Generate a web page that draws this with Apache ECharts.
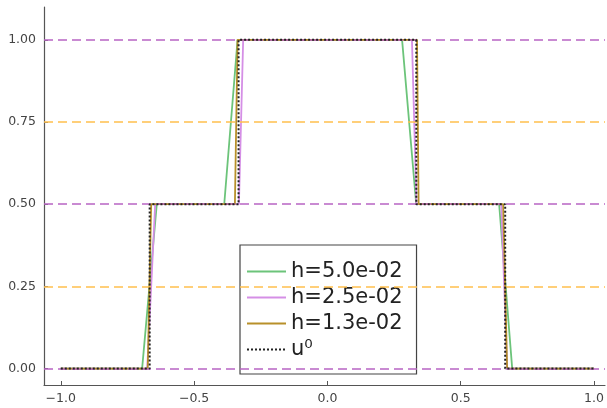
<!DOCTYPE html>
<html>
<head>
<meta charset="utf-8">
<script src="https://cdn.jsdelivr.net/npm/echarts@6/dist/echarts.min.js"></script>
<style>
html,body{margin:0;padding:0;background:#fff;}
#chart{width:607px;height:408px;}
</style>
</head>
<body>
<div id="chart"></div>
<script>
// ---- data ----
const xTicks = [-1.0, -0.5, 0.0, 0.5, 1.0];
const yTicks = [0.0, 0.25, 0.5, 0.75, 1.0];
const purpleLevels = [0.0, 0.5, 1.0];
const orangeLevels = [0.25, 0.75];

const seriesNames = ['h=5.0e-02', 'h=2.5e-02', 'h=1.3e-02', 'u\u2070'];

const h050 = [[-1,0],[-0.695,0],[-0.64,0.5],[-0.387,0.5],[-0.337,1],[0.28,1],[0.333,0.5],[0.644,0.5],[0.693,0],[1,0]];
const h025 = [[-1,0],[-0.676,0],[-0.646,0.5],[-0.332,0.5],[-0.316,1],[0.317,1],[0.334,0.5],[0.652,0.5],[0.674,0],[1,0]];
const h013 = [[-1,0],[-0.674,0],[-0.661,0.5],[-0.347,0.5],[-0.337,1],[0.336,1],[0.342,0.5],[0.659,0.5],[0.674,0],[1,0]];
const u0   = [[-1,0],[-0.6667,0],[-0.6667,0.5],[-0.3333,0.5],[-0.3333,1],[0.3333,1],[0.3333,0.5],[0.6667,0.5],[0.6667,0],[1,0]];

const colors = ['#6cc47a', '#d58fe6', '#b8902a', '#222222'];
const FONT = 'DejaVu Sans';

const chart = echarts.init(document.getElementById('chart'), null, {renderer: 'canvas'});

function lineSeries(name, data, color, type, width, z) {
  return {
    name: name, type: 'line', data: data, symbol: 'none', showSymbol: false,
    animation: false, z: z,
    lineStyle: {color: color, width: width, type: type},
    itemStyle: {color: color}
  };
}

const hlineData = purpleLevels.map(v => ({yAxis: v, lineStyle: {color: '#b864c4', type: [9, 5], width: 1.6}}))
  .concat(orangeLevels.map(v => ({yAxis: v, lineStyle: {color: '#ffc04d', type: [9, 5], width: 1.6}})));

const option = {
  backgroundColor: '#fff',
  animation: false,
  grid: {left: 44, right: 0, top: 7, bottom: 23, containLabel: false},
  xAxis: {
    type: 'value', min: -1.063, max: 1.041,
    axisLine: {show: true, onZero: false, lineStyle: {color: '#555', width: 1.2}},
    axisTick: {show: true, inside: true, length: 4, customValues: xTicks, lineStyle: {color: '#555'}},
    axisLabel: {customValues: xTicks, margin: 7, color: '#444', fontSize: 12.5, fontFamily: FONT,
      formatter: v => v.toFixed(1).replace('-', '\u2212')},
    splitLine: {show: false}
  },
  yAxis: {
    type: 'value', min: -0.05, max: 1.10,
    axisLine: {show: true, onZero: false, lineStyle: {color: '#555', width: 1.2}},
    axisTick: {show: true, inside: true, length: 4, customValues: yTicks, lineStyle: {color: '#555'}},
    axisLabel: {customValues: yTicks, margin: 8, color: '#444', fontSize: 12.5, fontFamily: FONT,
      formatter: v => v.toFixed(2)},
    splitLine: {show: false}
  },
  legend: {
    orient: 'vertical', left: 240, top: 245,
    data: seriesNames,
    itemWidth: 39, itemHeight: 14, itemGap: 5,
    padding: [16, 14, 14, 6],
    borderColor: '#444', borderWidth: 1.2, borderRadius: 0,
    backgroundColor: 'transparent',
    itemStyle: {opacity: 0},
    textStyle: {fontSize: 21, fontFamily: FONT, color: '#222'},
    selectedMode: false
  },
  series: [
    {
      name: 'hlines', type: 'line', data: [], silent: true,
      markLine: {silent: true, symbol: 'none', label: {show: false}, animation: false, data: hlineData},
      z: 1
    },
    lineSeries(seriesNames[0], h050, colors[0], 'solid', 1.8, 2),
    lineSeries(seriesNames[1], h025, colors[1], 'solid', 1.8, 3),
    lineSeries(seriesNames[2], h013, colors[2], 'solid', 1.8, 4),
    lineSeries(seriesNames[3], u0, colors[3], [2, 2], 2, 5)
  ]
};
chart.setOption(option);
</script>
</body>
</html>
